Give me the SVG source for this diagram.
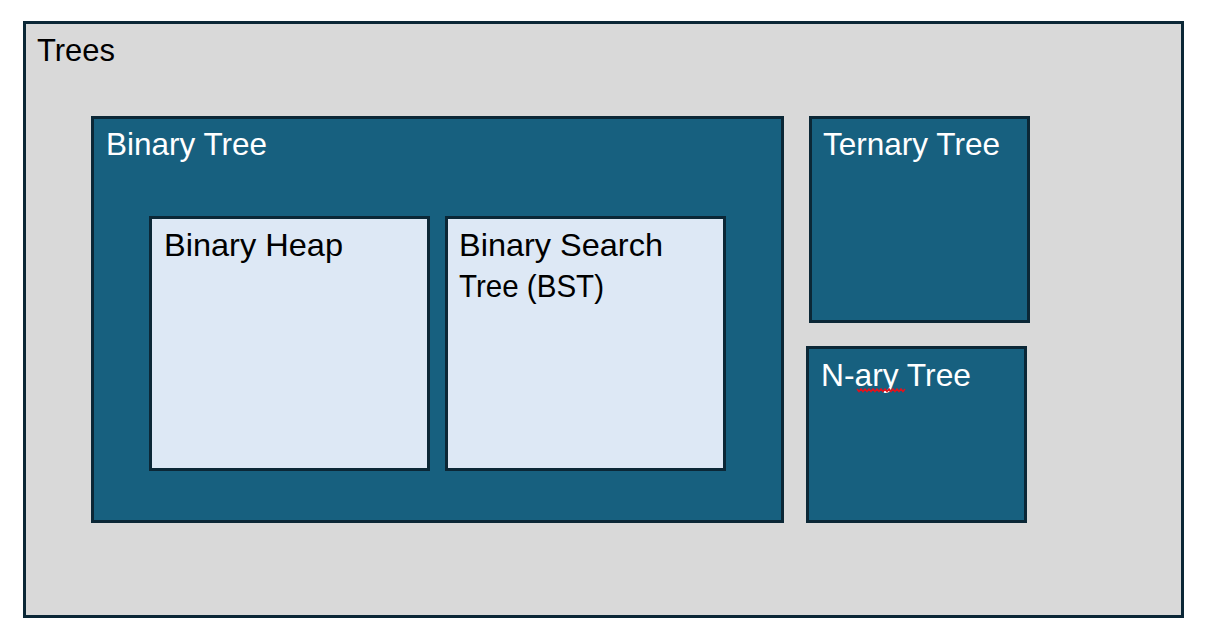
<svg xmlns="http://www.w3.org/2000/svg" width="1212" height="636" viewBox="0 0 1212 636">
<style>
.box{stroke:#0b2736;stroke-width:3}
.outer{fill:#d9d9d9}
.dark{fill:#17607f}
.light{fill:#dde8f5}
.t{font-family:"Liberation Sans","Open Sans",sans-serif;font-size:30.5px}
.w{fill:#ffffff}
.k{fill:#000000}
</style>
<rect width="1212" height="636" fill="#ffffff"/>
<g id="trees">
<rect class="box outer" x="24.5" y="22.5" width="1158" height="594"/>
<text class="t k" x="37" y="61" textLength="78" lengthAdjust="spacingAndGlyphs">Trees</text>
</g>
<g id="binary-tree">
<rect class="box dark" x="92.5" y="117.5" width="690" height="404"/>
<text class="t w" x="106" y="155" textLength="161" lengthAdjust="spacingAndGlyphs">Binary Tree</text>
</g>
<g id="binary-heap">
<rect class="box light" x="150.5" y="217.5" width="278" height="252"/>
<text class="t k" x="164" y="256" textLength="179" lengthAdjust="spacingAndGlyphs">Binary Heap</text>
</g>
<g id="bst">
<rect class="box light" x="446.5" y="217.5" width="278" height="252"/>
<text class="t k" x="459" y="256" textLength="204" lengthAdjust="spacingAndGlyphs">Binary Search</text>
<text class="t k" x="459" y="297" textLength="145" lengthAdjust="spacingAndGlyphs">Tree (BST)</text>
</g>
<g id="ternary-tree">
<rect class="box dark" x="810.5" y="117.5" width="218" height="204"/>
<text class="t w" x="823" y="155" textLength="177" lengthAdjust="spacingAndGlyphs">Ternary Tree</text>
</g>
<g id="nary-tree">
<rect class="box dark" x="807.5" y="347.5" width="218" height="174"/>
<text class="t w" x="821" y="386" textLength="150" lengthAdjust="spacingAndGlyphs">N-ary Tree</text>
<polyline points="857,389 859,391.5 861,389 863,391.5 865,389 867,391.5 869,389 871,391.5 873,389 875,391.5 877,389 879,391.5 881,389 883,391.5 885,389 887,391.5 889,389 891,391.5 893,389 895,391.5 897,389 899,391.5 901,389 903,391.5 905,389" fill="none" stroke="#e0141e" stroke-width="1.5"/>
</g>
<g id="connectors"></g>
</svg>
